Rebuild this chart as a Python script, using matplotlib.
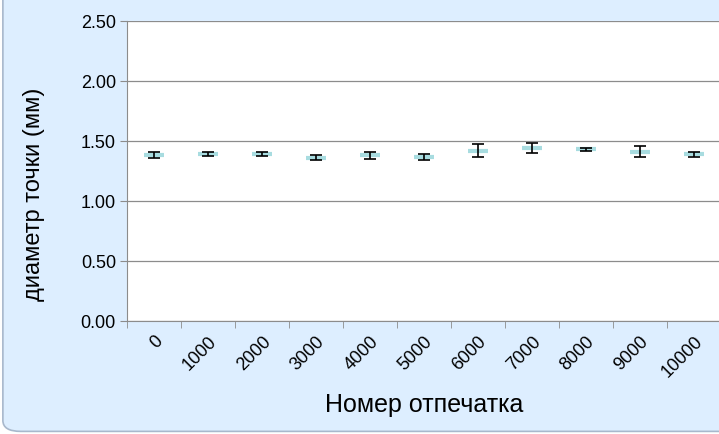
import numpy as np
import matplotlib.pyplot as plt
from matplotlib.patches import FancyBboxPatch

plt.rcParams['font.family'] = ['Liberation Sans', 'DejaVu Sans']

prints = ['0', '1000', '2000', '3000', '4000', '5000', '6000', '7000', '8000', '9000', '10000']
diameter = [1.38, 1.39, 1.39, 1.36, 1.38, 1.37, 1.42, 1.44, 1.43, 1.41, 1.39]
err = [0.025, 0.015, 0.015, 0.02, 0.03, 0.025, 0.055, 0.04, 0.015, 0.045, 0.02]
y_ticks = [0.0, 0.5, 1.0, 1.5, 2.0, 2.5]

fig = plt.figure(figsize=(7.19, 4.35), dpi=100)
fig.patch.set_facecolor('white')
bg = FancyBboxPatch((0.004, 0.006), 1.05, 1.05, boxstyle='round,pad=0,rounding_size=0.025',
                    transform=fig.transFigure, facecolor='#DDEEFF', edgecolor='#A8B8CC',
                    linewidth=1.2, zorder=-10)
fig.patches.append(bg)

ax = fig.add_axes([127 / 719, 1 - 322 / 435, 594 / 719, 300 / 435])
ax.set_facecolor('white')
x = np.arange(len(prints))
ax.errorbar(x, diameter, yerr=err, fmt='none', ecolor='black', elinewidth=1.2,
            capsize=4, capthick=1.2, zorder=3)
ax.plot(x, diameter, linestyle='none', marker='_', markersize=14, markeredgewidth=3,
        color='#A8DCE0', zorder=2)

ax.set_xlim(-0.5, len(prints) - 0.5)
ax.set_ylim(0, 2.5)
ax.set_yticks(y_ticks)
ax.set_yticklabels(['%.2f' % v for v in y_ticks], fontsize=13)
ax.yaxis.grid(True, color='#8C8C8C', linewidth=0.9)
ax.set_axisbelow(True)

ax.set_xticks(x)
ax.set_xticklabels(prints, rotation=45, ha='right', rotation_mode='anchor', fontsize=13)
ax.set_xticks(np.arange(len(prints) + 1) - 0.5, minor=True)
ax.tick_params(axis='x', which='major', length=0, pad=8)
ax.tick_params(axis='x', which='minor', length=5, color='#8C8C8C')
ax.tick_params(axis='y', length=5, color='#8C8C8C', pad=3)

for side in ['top', 'right']:
    ax.spines[side].set_visible(False)
for side in ['left', 'bottom']:
    ax.spines[side].set_color('#8C8C8C')

ax.set_ylabel('диаметр точки (мм)', fontsize=17)
ax.yaxis.set_label_coords(-0.138, 0.425)
ax.set_xlabel('Номер отпечатка', fontsize=18, labelpad=9)

fig.savefig('out.png', dpi=100)
